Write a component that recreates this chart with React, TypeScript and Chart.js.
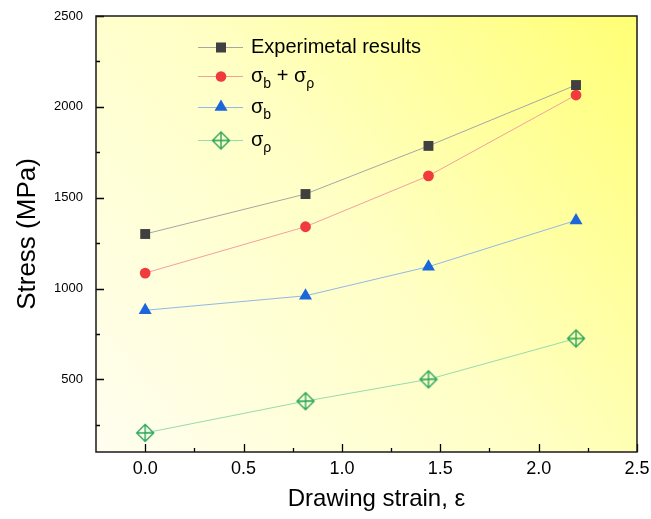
import React, { useEffect, useRef } from "react";
import { Chart, registerables } from "chart.js";

Chart.register(...registerables);

// ---- data ----
const STRAIN = [0, 0.815, 1.44, 2.19];
const EXPERIMENTAL = [1300, 1520, 1785, 2120];
const SIGMA_B_PLUS_RHO = [1085, 1340, 1620, 2065];
const SIGMA_B = [880, 960, 1120, 1375];
const SIGMA_RHO = [205, 380, 500, 725];

const X_TICKS = [0, 0.5, 1, 1.5, 2, 2.5];
const X_MINOR_TICKS = [0.25, 0.75, 1.25, 1.75, 2.25];
const Y_TICKS = [500, 1000, 1500, 2000, 2500];
const Y_MINOR_TICKS = [250, 750, 1250, 1750, 2250];

const X_TITLE = "Drawing strain, ε";
const Y_TITLE = "Stress (MPa)";

type Part = { t: string; sub?: boolean };
const LEGEND_LABELS: Part[][] = [
  [{ t: "Experimetal results" }],
  [{ t: "σ" }, { t: "b", sub: true }, { t: " + σ" }, { t: "ρ", sub: true }],
  [{ t: "σ" }, { t: "b", sub: true }],
  [{ t: "σ" }, { t: "ρ", sub: true }],
];

const FONT = "'Liberation Sans', Arial, sans-serif";

const COLORS = {
  expLine: "#a6a6a6",
  expPoint: "#404040",
  sumLine: "#f5a0a0",
  sumPoint: "#f03a3d",
  bLine: "#92b8e6",
  bPoint: "#1c66db",
  rhoLine: "#96dcae",
  rhoPoint: "#2ea65c",
};

function makeDiamond(): HTMLCanvasElement {
  const c = document.createElement("canvas");
  c.width = 22;
  c.height = 22;
  const g = c.getContext("2d")!;
  const m = 11;
  const h = 8.5;
  g.strokeStyle = COLORS.rhoPoint;
  g.lineWidth = 1.4;
  g.beginPath();
  g.moveTo(m, m - h);
  g.lineTo(m + h, m);
  g.lineTo(m, m + h);
  g.lineTo(m - h, m);
  g.closePath();
  g.moveTo(m, m - h);
  g.lineTo(m, m + h);
  g.moveTo(m - h, m);
  g.lineTo(m + h, m);
  g.stroke();
  return c;
}

export default function App() {
  const ref = useRef<HTMLCanvasElement | null>(null);

  useEffect(() => {
    if (!ref.current) return;
    const diamond = makeDiamond();

    const toPts = (ys: number[]) => STRAIN.map((x, i) => ({ x, y: ys[i] }));

    const bgPlugin = {
      id: "bg",
      beforeDraw(chart: any) {
        const { ctx, chartArea: a } = chart;
        const grad = ctx.createLinearGradient(a.left, a.bottom, a.right, a.top);
        grad.addColorStop(0, "#fffef0");
        grad.addColorStop(0.5, "#ffffc4");
        grad.addColorStop(1, "#ffff74");
        ctx.save();
        ctx.fillStyle = grad;
        ctx.fillRect(a.left, a.top, a.right - a.left, a.bottom - a.top);
        ctx.restore();
      },
    };

    const framePlugin = {
      id: "frame",
      afterDraw(chart: any) {
        const { ctx, chartArea: a, scales } = chart;
        const xs = scales.x;
        const ys = scales.y;
        ctx.save();
        ctx.strokeStyle = "#000";
        ctx.lineWidth = 1.3;
        ctx.beginPath();
        X_TICKS.forEach((v) => {
          const px = Math.round(xs.getPixelForValue(v)) + 0.5;
          ctx.moveTo(px, a.bottom);
          ctx.lineTo(px, a.bottom - 8);
        });
        X_MINOR_TICKS.forEach((v) => {
          const px = Math.round(xs.getPixelForValue(v)) + 0.5;
          ctx.moveTo(px, a.bottom);
          ctx.lineTo(px, a.bottom - 4);
        });
        Y_TICKS.forEach((v) => {
          const py = Math.round(ys.getPixelForValue(v)) + 0.5;
          ctx.moveTo(a.left, py);
          ctx.lineTo(a.left + 8, py);
        });
        Y_MINOR_TICKS.forEach((v) => {
          const py = Math.round(ys.getPixelForValue(v)) + 0.5;
          ctx.moveTo(a.left, py);
          ctx.lineTo(a.left + 4, py);
        });
        ctx.stroke();
        ctx.lineWidth = 1.5;
        ctx.strokeStyle = "#1a1a1a";
        ctx.strokeRect(a.left, a.top, a.right - a.left, a.bottom - a.top);

        // x-axis title
        ctx.fillStyle = "#000";
        ctx.font = `24px ${FONT}`;
        ctx.textAlign = "center";
        ctx.textBaseline = "middle";
        ctx.fillText(X_TITLE, (a.left + a.right) / 2 + 10, 499);
        ctx.restore();
      },
    };

    const legendPlugin = {
      id: "customLegend",
      afterDatasetsDraw(chart: any) {
        const { ctx } = chart;
        const rowsY = [47, 76, 107, 140];
        const lineX0 = 198;
        const lineX1 = 243;
        const markX = 221;
        const textX = 251;
        ctx.save();
        chart.data.datasets.forEach((ds: any, i: number) => {
          const y = rowsY[i];
          ctx.strokeStyle = ds.borderColor;
          ctx.lineWidth = 1;
          ctx.beginPath();
          ctx.moveTo(lineX0, y + 0.5);
          ctx.lineTo(lineX1, y + 0.5);
          ctx.stroke();
          const style = ds.pointStyle;
          ctx.fillStyle = ds.pointBackgroundColor;
          if (style === "rect") {
            ctx.fillRect(markX - 5, y - 4.5, 10, 10);
          } else if (style === "circle") {
            ctx.beginPath();
            ctx.arc(markX, y + 0.5, 5.3, 0, Math.PI * 2);
            ctx.fill();
          } else if (style === "triangle") {
            const r = 7.5;
            ctx.beginPath();
            ctx.moveTo(markX, y - r);
            ctx.lineTo(markX + r * 0.866, y + r * 0.5);
            ctx.lineTo(markX - r * 0.866, y + r * 0.5);
            ctx.closePath();
            ctx.fill();
          } else if (style instanceof HTMLCanvasElement) {
            ctx.drawImage(style, markX - style.width / 2, y - style.height / 2 + 0.5);
          }
          let x = textX;
          const base = y + 6;
          ctx.fillStyle = "#000";
          ctx.textBaseline = "alphabetic";
          ctx.textAlign = "left";
          LEGEND_LABELS[i].forEach((p) => {
            ctx.font = p.sub ? `14px ${FONT}` : `20px ${FONT}`;
            ctx.fillText(p.t, x, p.sub ? base + 6 : base);
            x += ctx.measureText(p.t).width;
          });
        });
        ctx.restore();
      },
    };

    const chart = new Chart(ref.current, {
      type: "line",
      data: {
        datasets: [
          {
            label: "Experimetal results",
            data: toPts(EXPERIMENTAL),
            borderColor: COLORS.expLine,
            borderWidth: 1,
            pointStyle: "rect",
            pointRadius: 7,
            pointBackgroundColor: COLORS.expPoint,
            pointBorderColor: COLORS.expPoint,
            pointBorderWidth: 0,
          },
          {
            label: "σb + σρ",
            data: toPts(SIGMA_B_PLUS_RHO),
            borderColor: COLORS.sumLine,
            borderWidth: 1,
            pointStyle: "circle",
            pointRadius: 5.4,
            pointBackgroundColor: COLORS.sumPoint,
            pointBorderColor: COLORS.sumPoint,
            pointBorderWidth: 0,
          },
          {
            label: "σb",
            data: toPts(SIGMA_B),
            borderColor: COLORS.bLine,
            borderWidth: 1,
            pointStyle: "triangle",
            pointRadius: 7.5,
            pointBackgroundColor: COLORS.bPoint,
            pointBorderColor: COLORS.bPoint,
            pointBorderWidth: 0,
          },
          {
            label: "σρ",
            data: toPts(SIGMA_RHO),
            borderColor: COLORS.rhoLine,
            borderWidth: 1,
            pointStyle: diamond as any,
            pointRadius: 9,
            pointBackgroundColor: "rgba(0,0,0,0)",
            pointBorderColor: COLORS.rhoPoint,
          },
        ],
      },
      options: {
        animation: false,
        responsive: true,
        maintainAspectRatio: false,
        layout: { padding: { top: 16, right: 14, left: 0, bottom: 0 } },
        plugins: { legend: { display: false }, tooltip: { enabled: false } },
        scales: {
          x: {
            type: "linear",
            min: -0.25,
            max: 2.5,
            afterBuildTicks: (s: any) => {
              s.ticks = X_TICKS.map((v) => ({ value: v }));
            },
            afterFit: (s: any) => {
              s.height = 67;
              s.paddingLeft = 0;
              s.paddingRight = 0;
            },
            grid: { display: false, drawTicks: false },
            border: { display: false },
            ticks: {
              color: "#000",
              font: { family: FONT, size: 18 },
              padding: 6,
              maxRotation: 0,
              autoSkip: false,
              callback: (v: any) => Number(v).toFixed(1),
            },
            title: { display: false },
          },
          y: {
            type: "linear",
            min: 100,
            max: 2500,
            afterBuildTicks: (s: any) => {
              s.ticks = Y_TICKS.map((v) => ({ value: v }));
            },
            afterFit: (s: any) => {
              s.width = 96;
              s.paddingTop = 0;
              s.paddingBottom = 0;
            },
            grid: { display: false, drawTicks: false },
            border: { display: false },
            ticks: {
              color: "#000",
              font: { family: FONT, size: 13 },
              padding: 13,
              autoSkip: false,
              callback: (v: any) => String(v),
            },
            title: {
              display: true,
              text: Y_TITLE,
              color: "#000",
              font: { family: FONT, size: 26 },
              padding: { top: 12, bottom: 0 },
            },
          },
        },
      },
      plugins: [bgPlugin, framePlugin, legendPlugin],
    } as any);

    return () => chart.destroy();
  }, []);

  return (
    <div style={{ position: "absolute", left: 0, top: 0, width: 651, height: 519, background: "#fff" }}>
      <canvas ref={ref} />
    </div>
  );
}
